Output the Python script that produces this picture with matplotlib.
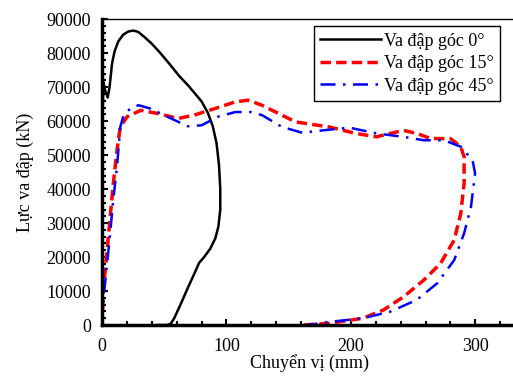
import matplotlib
matplotlib.use('Agg')
import matplotlib.pyplot as plt
from matplotlib.ticker import MultipleLocator

# 0 degree impact
x0 = [0, 0.3, 1, 2.5, 4.5, 6, 8, 10, 13, 17, 21, 25, 29, 34, 40, 47, 55, 62, 69, 75,
      80, 85, 89, 92, 94, 95, 95, 93.5, 91, 87, 82, 78, 74, 69, 63, 58, 55, 52, 45]
y0 = [0, 60000, 71500, 69000, 67000, 70000, 77000, 80500, 83500, 85500, 86400, 86700,
      86300, 84800, 82800, 80000, 76500, 73300, 70600, 68000, 65800, 62500, 58500, 53500,
      47000, 40000, 34000, 29000, 25500, 22500, 20000, 18300, 15000, 11000, 6000, 2000,
      300, 0, 0]

# 15 degree impact
x15 = [0, 1, 3.8, 6.5, 9, 12, 14.6, 20, 31, 44.5, 61, 74, 90.5, 107, 117.6, 128.5,
       155.5, 182.6, 204, 220.6, 231.4, 242.3, 253, 264, 280, 288.3, 291, 291, 288.3,
       283, 272, 258.5, 242.3, 226, 209.8, 182.6, 161]
y15 = [0, 10300, 21100, 31800, 41600, 51500, 58300, 61300, 63200, 62300, 60800, 61800,
       63700, 65700, 66200, 64700, 59800, 58300, 56400, 55400, 56400, 57300, 56400, 54900,
       54900, 52500, 49500, 41700, 32800, 25000, 18100, 13200, 8300, 4400, 2000, 500, 0]

# 45 degree impact
x45 = [0, 1, 3.8, 6.5, 9, 12, 14.6, 17.3, 24, 29.5, 39, 52.6, 69, 80, 93, 107, 120,
       128.5, 144.7, 161, 177, 199, 220.6, 242.3, 258.5, 274.8, 288.3, 297.8, 299.8,
       296.5, 291, 283, 269.4, 253, 231.4, 209.8, 182.6, 165]
y45 = [0, 7400, 17200, 27000, 37000, 46600, 58300, 61800, 64200, 64700, 63700, 61300,
       58500, 58800, 61300, 62700, 62700, 61800, 58300, 56600, 57300, 58100, 56400, 55400,
       54400, 54400, 52500, 48500, 44600, 34800, 27000, 19100, 12300, 7400, 3900, 2000,
       900, 0]

plt.rcParams['font.family'] = ['Liberation Serif', 'DejaVu Serif']
plt.rcParams['font.size'] = 13

fig = plt.figure(figsize=(5.13, 3.76), dpi=100)
ax = fig.add_axes([0.199, 0.1356, 0.81, 0.813])

ax.plot(x0, y0, color='black', lw=1.8, label='Va đập góc 0°')
ax.plot(x15, y15, color='red', lw=2.5, ls=(0, (3, 1.5)), label='Va đập góc 15°')
ax.plot(x45, y45, color='blue', lw=1.8, ls=(0, (6, 3, 1, 3)), label='Va đập góc 45°')

ax.set_xlim(0, 334)
ax.set_ylim(0, 90000)
ax.xaxis.set_major_locator(MultipleLocator(100))
ax.xaxis.set_minor_locator(MultipleLocator(20))
ax.yaxis.set_major_locator(MultipleLocator(10000))
ax.yaxis.set_minor_locator(MultipleLocator(2000))
ax.tick_params(which='both', direction='in', width=1.5)
ax.tick_params(which='major', length=4)
ax.tick_params(which='minor', length=3)
ax.tick_params(axis='x', pad=9)
ax.tick_params(axis='y', pad=8)

ax.spines['left'].set_linewidth(2.5)
ax.spines['bottom'].set_linewidth(2.5)
ax.spines['top'].set_linewidth(1)
ax.spines['right'].set_visible(False)

ax.set_xlabel('Chuyển vị (mm)', labelpad=0)
ax.set_ylabel('Lực va đập (kN)', labelpad=9)

leg = ax.legend(loc='upper right', bbox_to_anchor=(0.958, 0.977), borderaxespad=0,
                fancybox=False, edgecolor='black', framealpha=1, handlelength=3.4,
                handletextpad=0.15, borderpad=0.35, labelspacing=0.3, fontsize=13)
leg.get_frame().set_linewidth(1)

fig.savefig('out.png', dpi=100)
